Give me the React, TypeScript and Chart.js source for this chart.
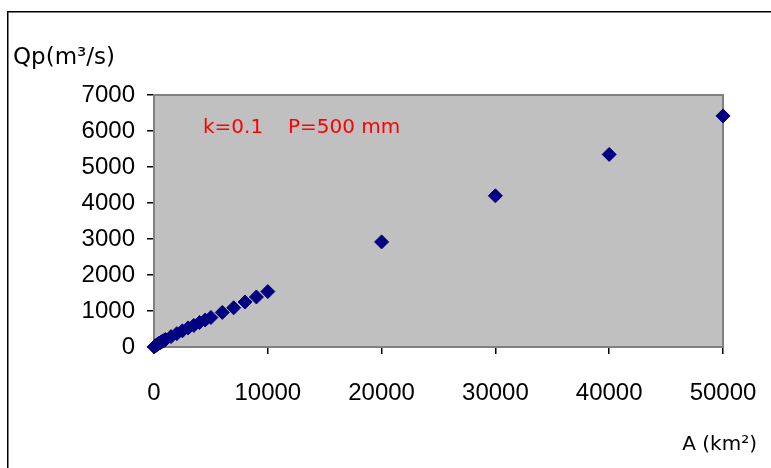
import React, { useEffect, useRef } from "react";
import { Chart, registerables } from "chart.js";

Chart.register(...registerables);

const areaKm2 = [10, 50, 100, 200, 300, 400, 500, 600, 700, 800, 900, 1000, 1500, 2000, 2500, 3000, 3500, 4000, 4500, 5000, 6000, 7000, 8000, 9000, 10000, 20000, 30000, 40000, 50000];
const peakFlow = [4, 15, 27, 50, 73, 95, 110, 130, 150, 170, 185, 205, 290, 370, 450, 530, 600, 680, 750, 820, 960, 1090, 1250, 1390, 1540, 2920, 4200, 5350, 6420];

const xTitle = "A (km²)";
const yTitle = "Qp(m³/s)";
const noteK = "k=0.1";
const noteP = "P=500 mm";

const titleFont = '"Comic Sans MS", "DejaVu Sans", sans-serif';
const tickFont = '"Liberation Sans", Arial, sans-serif';

const decorPlugin = {
  id: "decor",
  beforeDatasetsDraw(chart: any) {
    const { ctx, chartArea: a } = chart;
    ctx.save();
    ctx.fillStyle = "#C0C0C0";
    ctx.fillRect(a.left, a.top, a.right - a.left, a.bottom - a.top);
    ctx.strokeStyle = "#808080";
    ctx.lineWidth = 2;
    ctx.strokeRect(a.left, a.top, a.right - a.left, a.bottom - a.top);
    ctx.restore();
  },
  afterDraw(chart: any) {
    const { ctx } = chart;
    ctx.save();
    ctx.strokeStyle = "#000";
    ctx.lineWidth = 1.5;
    ctx.strokeRect(7.75, 11.75, 900, 600);
    ctx.fillStyle = "#000";
    ctx.textBaseline = "alphabetic";
    ctx.font = `23px ${titleFont}`;
    ctx.textAlign = "left";
    ctx.fillText(yTitle, 13, 64);
    ctx.font = `20px ${titleFont}`;
    ctx.textAlign = "right";
    ctx.fillText(xTitle, 757, 450);
    ctx.fillStyle = "#FF0000";
    ctx.textAlign = "left";
    ctx.fillText(noteK, 203, 133);
    ctx.fillText(noteP, 288, 133);
    ctx.restore();
  },
};

export default function App() {
  const ref = useRef<HTMLCanvasElement>(null);
  useEffect(() => {
    if (!ref.current) return;
    const chart = new Chart(ref.current, {
      type: "scatter",
      data: {
        datasets: [
          {
            data: areaKm2.map((x, i) => ({ x, y: peakFlow[i] })),
            pointStyle: "rectRot",
            pointRadius: 7,
            pointBackgroundColor: "#000080",
            pointBorderColor: "#000080",
            pointBorderWidth: 1,
            showLine: false,
            clip: false,
          } as any,
        ],
      },
      options: {
        animation: false,
        responsive: true,
        maintainAspectRatio: false,
        layout: { padding: { top: 95, right: 48, left: 0, bottom: 0 } },
        plugins: { legend: { display: false }, tooltip: { enabled: false }, title: { display: false } },
        scales: {
          x: {
            type: "linear",
            min: 0,
            max: 50000,
            ticks: { stepSize: 10000, maxRotation: 0, color: "#000", padding: 25, font: { family: tickFont, size: 24 }, callback: (v: any) => String(v) },
            grid: { drawOnChartArea: false, drawTicks: true, tickLength: 7, color: "#000", lineWidth: 1.5 },
            border: { display: false },
            afterFit: (s: any) => { s.height = 121; s.paddingLeft = 0; s.paddingRight = 0; },
          },
          y: {
            type: "linear",
            min: 0,
            max: 7000,
            ticks: { stepSize: 1000, color: "#000", padding: 12, font: { family: tickFont, size: 24 }, callback: (v: any) => String(v) },
            grid: { drawOnChartArea: false, drawTicks: true, tickLength: 7, color: "#000", lineWidth: 1.5 },
            border: { display: false },
            afterFit: (s: any) => { s.width = 154; s.paddingTop = 0; s.paddingBottom = 0; },
          },
        },
      },
      plugins: [decorPlugin],
    });
    return () => chart.destroy();
  }, []);
  return (
    <div style={{ position: "absolute", left: 0, top: 0, width: 771, height: 468, background: "#fff" }}>
      <canvas ref={ref} />
    </div>
  );
}
